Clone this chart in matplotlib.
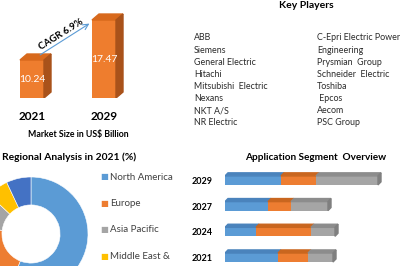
import numpy as np
import matplotlib
matplotlib.use("Agg")
import matplotlib.pyplot as plt
from matplotlib.patches import Polygon

plt.rcParams['font.family'] = ['Lato', 'DejaVu Sans']

# ---- data ----
years = ['2021', '2029']
market = [10.24, 17.47]
cagr = 'CAGR 6.9%'

players_left = ['ABB', 'Siemens', 'General Electric', 'Hitachi',
                'Mitsubishi  Electric', 'Nexans', 'NKT A/S', 'NR Electric']
players_right = ['C-Epri Electric Power', 'Engineering', 'Prysmian  Group',
                 'Schneider  Electric', 'Toshiba', ' Epcos', 'Aecom', 'PSC Group']

regions = ['North America', 'Europe', 'Asia Pacific', 'Middle East &', 'South America']
region_share = [56, 21, 10, 6, 7]
region_colors = ['#5B9BD5', '#ED7D31', '#A5A5A5', '#FFC000', '#4472C4']

app_years = ['2021', '2024', '2027', '2029']
seg_a = [53, 31, 43, 56]
seg_b = [30, 55, 23, 35]
seg_c = [25, 24, 37, 62]
seg_colors = ['#5B9BD5', '#ED7D31', '#A5A5A5']
seg_dark = ['#4A83BC', '#C9661F', '#8C8C8C']

W, H = 400, 266
fig = plt.figure(figsize=(4, 2.66), dpi=100)


def box(x0, y0, x1, y1):
    # pixel box (top-left origin) -> figure fraction rect
    return [x0 / W, 1 - y1 / H, (x1 - x0) / W, (y1 - y0) / H]


def ftext(x, y, s, **kw):
    fig.text(x / W, 1 - y / H, s, **kw)


# ---- market size bars ----
ax1 = fig.add_axes(box(0, 10, 140, 98))
base = 3.37
ax1.set_xlim(-32 / 72, 108 / 72)
ax1.set_ylim(base, base + 88 / 5.53)
ax1.axis('off')
bw = 24 / 72
dx, dy = 7 / 72, 6 / 5.53
for i, v in enumerate(market):
    ax1.bar(i, v - base, bottom=base, width=bw, color='#EE7D2E', zorder=2)
    l, r = i - bw / 2, i + bw / 2
    ax1.add_patch(Polygon([(l, v), (r, v), (r + dx, v + dy), (l + dx, v + dy)],
                          closed=True, color='#D8691C', zorder=2))
    ax1.add_patch(Polygon([(r, base), (r + dx, base + dy), (r + dx, v + dy), (r, v)],
                          closed=True, color='#A9521A', zorder=2))
    ax1.text(i, (base + v) / 2, '%.2f' % v, color='white', ha='center',
             va='center', fontsize=7.5)
    ax1.text(i, base - 19 / 5.53, years[i], ha='center', va='center',
             fontsize=8.5, fontweight='bold')
ax1.annotate('', xy=(0.83, 17.1), xytext=(0.08, 10.9),
             arrowprops=dict(arrowstyle='->', color='#5B9BD5', lw=0.8))
ftext(61, 34, cagr, ha='center', va='center', rotation=32,
      fontsize=7, fontweight='bold')
ftext(78, 134, 'Market Size in US$ Billion', ha='center', va='center',
      fontsize=6.3, fontweight='bold')

# ---- key players ----
ftext(306, 6, 'Key Players', ha='center', va='center', fontsize=7.5,
      fontweight='bold')
for k, name in enumerate(players_left):
    ftext(194, 38 + k * 12.1, name, ha='left', va='center', fontsize=6.4,
          color='#2b2b2b')
for k, name in enumerate(players_right):
    ftext(317, 38 + k * 12.1, name, ha='left', va='center', fontsize=6.4,
          color='#2b2b2b')

# ---- regional donut ----
ftext(2, 157, 'Regional Analysis in 2021 (%)', ha='left', va='center',
      fontsize=7.4, fontweight='bold')
ax2 = fig.add_axes(box(31 - 57, 234 - 57, 31 + 57, 234 + 57))
ax2.pie(region_share, colors=region_colors, startangle=90, counterclock=False,
        radius=1, wedgeprops=dict(width=0.49, edgecolor='white', linewidth=0.4))
ax2.set_xlim(-1, 1)
ax2.set_ylim(-1, 1)
ax2.set_aspect('equal')
# only the first four legend rows fit inside the picture
for k, (name, c) in enumerate(zip(regions[:4], region_colors[:4])):
    yy = 177 + k * 26.4
    ftext(104, yy, '\u25A0', ha='center', va='center', fontsize=6, color=c)
    ftext(110, yy, name, ha='left', va='center', fontsize=7, color='#404040')

# ---- application segment bars ----
ftext(316, 157, 'Application Segment  Overview', ha='center', va='center',
      fontsize=7.2, fontweight='bold')
ax3 = fig.add_axes(box(225, 165, 400, 266))
ax3.set_xlim(0, 175)
ax3.set_ylim(-0.33, 3.6)
for s in ax3.spines.values():
    s.set_visible(False)
ax3.set_xticks([])
ax3.set_yticks(range(len(app_years)))
ax3.set_yticklabels(app_years, fontsize=6.5, fontweight='bold')
ax3.tick_params(axis='y', length=0, pad=9)
bh = 0.35
ddx, ddy = 3, 0.12
segs = [seg_a, seg_b, seg_c]
for j in range(len(app_years)):
    left = 0
    for s, vals in enumerate(segs):
        v = vals[j]
        ax3.barh(j, v, left=left, height=bh, color=seg_colors[s], zorder=2)
        t = j + bh / 2
        ax3.add_patch(Polygon([(left, t), (left + v, t), (left + v + ddx, t + ddy),
                               (left + ddx, t + ddy)], closed=True,
                              color=seg_dark[s], zorder=2))
        left += v
    b = j - bh / 2
    ax3.add_patch(Polygon([(left, b), (left + ddx, b + ddy), (left + ddx, j + bh / 2 + ddy),
                           (left, j + bh / 2)], closed=True, color='#7F7F7F', zorder=2))

fig.savefig('out.png', dpi=100)
